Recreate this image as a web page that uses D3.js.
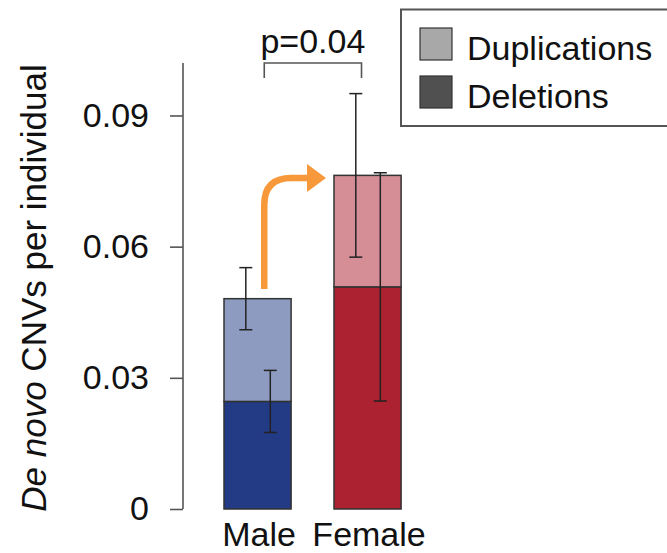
<!DOCTYPE html>
<html>
<head>
<meta charset="utf-8">
<script src="https://cdn.jsdelivr.net/npm/d3@7"></script>
<style>
  html, body { margin: 0; padding: 0; background: #fff; }
  svg { display: block; font-family: "Liberation Sans", Arial, Helvetica, sans-serif; }
</style>
</head>
<body>
<svg id="chart" width="667" height="553"></svg>
<script>
// De novo CNV rate per individual, split by sex and CNV type
const categories = ["Male", "Female"];
const deletions = [0.0246, 0.0508];
const duplications = [0.0235, 0.0255];
const delErr = [0.0071, 0.0261];
const dupErr = [0.0071, 0.0187];
const yTicks = [0, 0.03, 0.06, 0.09];
const legendLabels = ["Duplications", "Deletions"];
const pLabel = "p=0.04";

const colors = {
  Male: { dup: "#8e9bc1", del: "#233a85" },
  Female: { dup: "#d58d96", del: "#ad2231" }
};
const legendColors = ["#a8a8a8", "#505050"];

const svg = d3.select("#chart");
const fontSize = 34;

const y = d3.scaleLinear().domain([0, 0.102]).range([509, 63]);
const x = d3.scaleBand().domain(categories)
  .range([202, 423.1]).paddingInner(0.39).paddingOuter(0.2);

// y axis
const yAxis = d3.axisLeft(y).tickValues(yTicks).tickSize(13).tickPadding(21)
  .tickFormat(d => d === 0 ? "0" : d3.format(".2f")(d));
const gy = svg.append("g").attr("transform", "translate(183,0)").call(yAxis);
gy.select(".domain").attr("stroke", "#555").attr("stroke-width", 1.6)
  .attr("d", `M0,${y.range()[0]}V${y.range()[1]}`);
gy.selectAll(".tick line").attr("stroke", "#555").attr("stroke-width", 1.6);
gy.selectAll(".tick text").attr("font-size", fontSize).attr("fill", "#111")
  .attr("font-family", "'Liberation Sans', Arial, sans-serif");

// y axis title
const title = svg.append("text")
  .attr("transform", "translate(46,288) rotate(-90)")
  .attr("text-anchor", "middle").attr("font-size", 35).attr("fill", "#111");
title.append("tspan").attr("font-style", "italic").text("De novo");
title.append("tspan").text(" CNVs per individual");

// stacked bars
const bars = svg.append("g");
categories.forEach((c, i) => {
  const x0 = x(c), bw = x.bandwidth();
  const total = deletions[i] + duplications[i];
  bars.append("rect").attr("x", x0).attr("width", bw)
    .attr("y", y(deletions[i])).attr("height", y(0) - y(deletions[i]))
    .attr("fill", colors[c].del).attr("stroke", "#333").attr("stroke-width", 1.5);
  bars.append("rect").attr("x", x0).attr("width", bw)
    .attr("y", y(total)).attr("height", y(deletions[i]) - y(total))
    .attr("fill", colors[c].dup).attr("stroke", "#333").attr("stroke-width", 1.5);
});

// error bars
function errorBar(cx, centre, err) {
  const g = svg.append("g").attr("stroke", "#222").attr("stroke-width", 1.5);
  const top = y(centre + err), bot = y(centre - err);
  g.append("line").attr("x1", cx).attr("x2", cx).attr("y1", top).attr("y2", bot);
  g.append("line").attr("x1", cx - 6.5).attr("x2", cx + 6.5).attr("y1", top).attr("y2", top);
  g.append("line").attr("x1", cx - 6.5).attr("x2", cx + 6.5).attr("y1", bot).attr("y2", bot);
}
categories.forEach((c, i) => {
  const x0 = x(c), bw = x.bandwidth();
  errorBar(x0 + bw * 0.325, deletions[i] + duplications[i], dupErr[i]);
  errorBar(x0 + bw * 0.69, deletions[i], delErr[i]);
});

// category labels
svg.append("g").selectAll("text").data(categories).join("text")
  .attr("x", d => x(d) + x.bandwidth() / 2 + 1.5)
  .attr("y", 546)
  .attr("text-anchor", "middle").attr("font-size", fontSize).attr("fill", "#111")
  .text(d => d);

// significance bracket
const bx1 = x("Male") + x.bandwidth() * 0.6, bx2 = x("Female") + x.bandwidth() * 0.41;
svg.append("path")
  .attr("d", `M${bx1},78V63H${bx2}V78`)
  .attr("fill", "none").attr("stroke", "#555").attr("stroke-width", 1.6);
svg.append("text").attr("x", (bx1 + bx2) / 2).attr("y", 53)
  .attr("text-anchor", "middle").attr("font-size", fontSize).attr("fill", "#111")
  .text(pLabel);

// orange arrow from male to female total
const ax = bx1, ay0 = 289, ay1 = 178, r = 27, ahx = 307, tip = 326;
svg.append("path")
  .attr("d", `M${ax},${ay0}V${ay1 + r}Q${ax},${ay1} ${ax + r},${ay1}H${ahx + 2}`)
  .attr("fill", "none").attr("stroke", "#f7993a").attr("stroke-width", 6.5);
svg.append("path")
  .attr("d", `M${ahx},${ay1 - 14}L${tip},${ay1}L${ahx},${ay1 + 14}Z`)
  .attr("fill", "#f7993a");

// legend
const lg = svg.append("g");
lg.append("rect").attr("x", 401).attr("y", 9.5).attr("width", 280).attr("height", 116.5)
  .attr("fill", "#fff").attr("stroke", "#555").attr("stroke-width", 2);
legendLabels.forEach((t, i) => {
  const yy = 28 + i * 48;
  lg.append("rect").attr("x", 420).attr("y", yy).attr("width", 32).attr("height", 32)
    .attr("fill", legendColors[i]).attr("stroke", "#333").attr("stroke-width", 1.2);
  lg.append("text").attr("x", 467).attr("y", yy + 32).attr("font-size", fontSize)
    .attr("fill", "#111").text(t);
});
</script>
</body>
</html>
